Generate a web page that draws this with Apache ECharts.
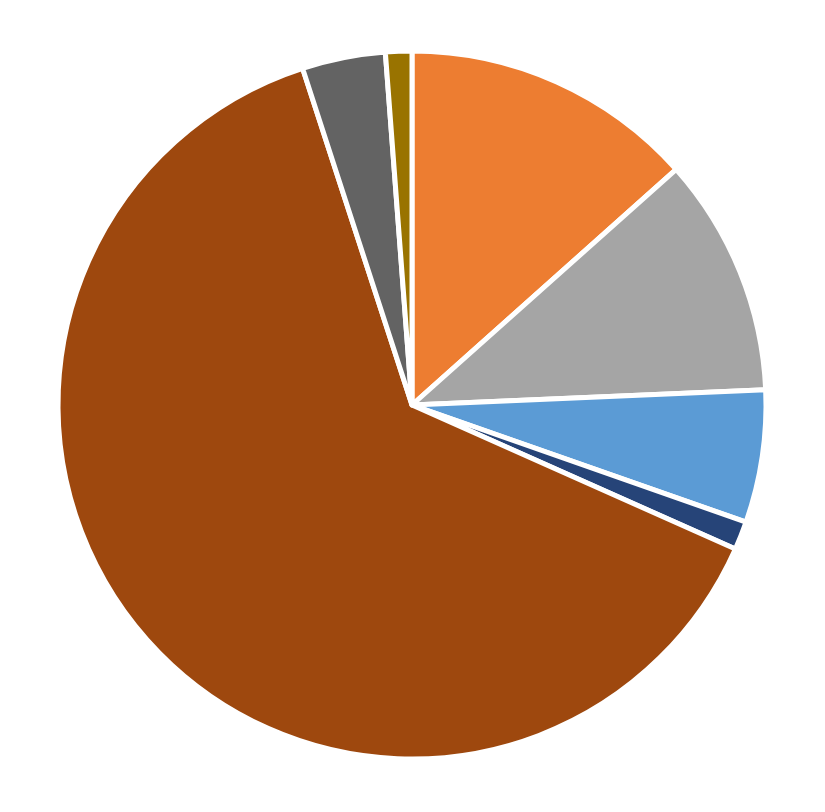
<!DOCTYPE html>
<html><head><meta charset="utf-8">
<script src="https://cdn.jsdelivr.net/npm/echarts@6/dist/echarts.min.js"></script>
<style>html,body{margin:0;padding:0;background:#fff}#c{width:825px;height:812px}</style>
</head><body><div id="c"></div>
<script>
const categories = ['A','B','C','D','E','F','G'];
const values = [13.4, 10.9, 6.05, 1.3, 63.3, 3.8, 1.2];
const colors = ['#ED7D31','#A5A5A5','#5B9BD5','#264478','#9E480E','#636363','#997300'];
const chart = echarts.init(document.getElementById('c'));
chart.setOption({
  animation: false,
  series: [{
    type: 'pie',
    center: [412, 405],
    radius: [0, 354],
    startAngle: 90,
    clockwise: true,
    label: {show: false},
    labelLine: {show: false},
    itemStyle: {borderColor: '#fff', borderWidth: 5},
    data: categories.map((c, i) => ({name: c, value: values[i], itemStyle: {color: colors[i]}}))
  }]
});
</script></body></html>
